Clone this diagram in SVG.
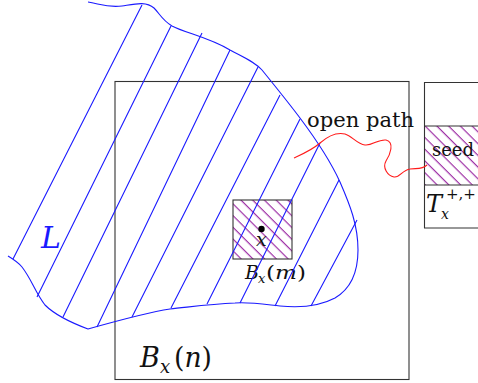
<svg xmlns="http://www.w3.org/2000/svg" width="478" height="383" viewBox="0 0 478 383">
<style>
.box{fill:none;stroke:#333;stroke-width:1.1}
.blue{fill:none;stroke:#1a1aff;stroke-width:1.1}
.red{fill:none;stroke:#ff1a1a;stroke-width:1.1}
.t{font-family:"DejaVu Serif","Liberation Serif",serif;fill:#111}
.it{font-style:italic}
</style>
<defs>
<pattern id="hatch" patternUnits="userSpaceOnUse" width="8.3" height="8.3" patternTransform="rotate(-45)">
<line x1="4" y1="-1" x2="4" y2="9.3" stroke="#951c9e" stroke-width="1.1"/>
</pattern>
</defs>
<rect width="478" height="383" fill="#fff"/>

<g id="box-Bn">
<rect class="box" x="115" y="81.5" width="294" height="298"/>
<text class="t it" x="140" y="367" font-size="27">B</text>
<text class="t it" x="160" y="373" font-size="18">x</text>
<text class="t" x="174" y="367" font-size="27" textLength="38" lengthAdjust="spacingAndGlyphs">(<tspan class="it">n</tspan>)</text>
</g>

<g id="box-T">
<rect x="424" y="126" width="60" height="59" fill="url(#hatch)"/>
<path class="box" d="M484,82.5 H424.5 V228 H484 M424.5,126 H484 M424.5,185 H484"/>
<text class="t" x="432" y="156" font-size="19" textLength="42" lengthAdjust="spacingAndGlyphs">seed</text>
<text class="t it" x="426" y="212" font-size="24">T</text>
<text class="t it" x="441" y="219" font-size="14">x</text>
<text class="t" x="446" y="199" font-size="15">+,+</text>
</g>

<g id="box-Bm">
<rect x="233" y="200" width="59" height="59" fill="url(#hatch)"/>
<rect class="box" x="233" y="200" width="59" height="59"/>
<circle cx="261.5" cy="229" r="3.2" fill="#000"/>
<text class="t it" x="256" y="246" font-size="19">x</text>
<text class="t it" x="245" y="279" font-size="19">B</text>
<text class="t it" x="258" y="283" font-size="13">x</text>
<text class="t" x="266" y="279" font-size="19" textLength="40" lengthAdjust="spacingAndGlyphs">(<tspan class="it">m</tspan>)</text>
</g>

<g id="region-L">
<path class="blue" d="M88,2 C100,4 108,8 122,6 C135,4 146,1 154,8 C160,14 162,20 172,26 C185,33 208,37 230,50 C245,58 255,62 262,70 C275,86 288,102 300,118 C315,138 330,160 340,182 C350,205 358,225 358,250 C358,270 352,288 335,298 C320,306 300,308 280,306 C262,304 250,302 235,303 C210,304 190,307 170,309 C150,312 120,320 88,329 C72,323 55,315 45,305 C35,292 32,280 22,267 C18,262 13,259 8,256"/>
<path class="blue" d="M142,5 L13,259 M171,26 L37,297 M202,33 L63,317 M230,50 L97,327 M258,67 L132,317 M280,95 L171,308 M300,119 L207,304 M320,143 L240,303 M339,180 L275,306 M357,220 L311,306"/>
<text class="t it" x="41" y="248" font-size="30" style="fill:#1a1aff">L</text>
</g>

<g id="connectors">
<path class="red" d="M294,158 C305,153 312,150 320,143 C328,136 336,132 345,134 C352,136 357,144 365,145 C372,146 378,139 386,140 C395,142 390,155 386,161 C382,168 388,176 394,177 C400,178 402,170 410,169 C416,168 422,170 427,165"/>
<text class="t" x="307" y="127" font-size="21" textLength="107" lengthAdjust="spacingAndGlyphs">open path</text>
</g>
</svg>
